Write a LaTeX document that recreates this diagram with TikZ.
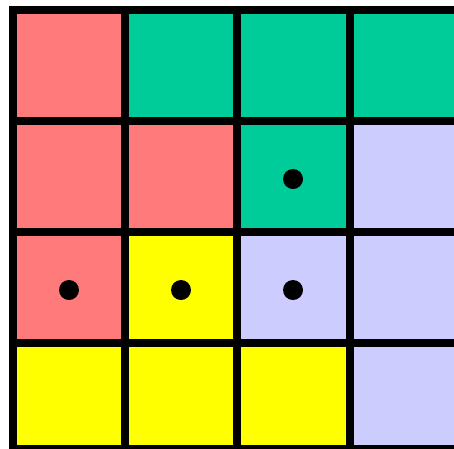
\documentclass[tikz,border=0pt]{standalone}
\definecolor{cred}{RGB}{255,122,122}
\definecolor{cgreen}{RGB}{0,204,153}
\definecolor{clav}{RGB}{204,204,255}
\definecolor{cyel}{RGB}{255,255,0}
\begin{document}
\begin{tikzpicture}[x=1pt,y=-1pt,
  gridline/.style={line width=8pt,black},
  dot/.style={circle,fill=black,inner sep=0pt,minimum size=20pt}]
\useasboundingbox (0,0) rectangle (454,448);
\fill[white] (0,0) rectangle (454,448);
% column lines x: 13,125,237,350,462 ; row lines y: 10,121,232,343,449
\def\xa{13}\def\xb{125}\def\xc{237}\def\xd{350}\def\xe{470}
\def\ya{10}\def\yb{121}\def\yc{232}\def\yd{343}\def\ye{449}
% row 0
\fill[cred]   (\xa,\ya) rectangle (\xb,\yb);
\fill[cgreen] (\xb,\ya) rectangle (\xc,\yb);
\fill[cgreen] (\xc,\ya) rectangle (\xd,\yb);
\fill[cgreen] (\xd,\ya) rectangle (\xe,\yb);
% row 1
\fill[cred]   (\xa,\yb) rectangle (\xb,\yc);
\fill[cred]   (\xb,\yb) rectangle (\xc,\yc);
\fill[cgreen] (\xc,\yb) rectangle (\xd,\yc);
\fill[clav]   (\xd,\yb) rectangle (\xe,\yc);
% row 2
\fill[cred]   (\xa,\yc) rectangle (\xb,\yd);
\fill[cyel]   (\xb,\yc) rectangle (\xc,\yd);
\fill[clav]   (\xc,\yc) rectangle (\xd,\yd);
\fill[clav]   (\xd,\yc) rectangle (\xe,\yd);
% row 3
\fill[cyel]   (\xa,\yd) rectangle (\xb,\ye);
\fill[cyel]   (\xb,\yd) rectangle (\xc,\ye);
\fill[cyel]   (\xc,\yd) rectangle (\xd,\ye);
\fill[clav]   (\xd,\yd) rectangle (\xe,\ye);
% grid lines
\foreach \x in {\xa,\xb,\xc,\xd}
  \draw[gridline] (\x,6) -- (\x,460);
\foreach \y in {\ya,\yb,\yc,\yd,\ye}
  \draw[gridline] (9,\y) -- (470,\y);
% dots
\node[dot] (d1) at (293,179) {};
\node[dot] (d2) at (69,290) {};
\node[dot] (d3) at (181,290) {};
\node[dot] (d4) at (293,290) {};
\end{tikzpicture}
\end{document}
